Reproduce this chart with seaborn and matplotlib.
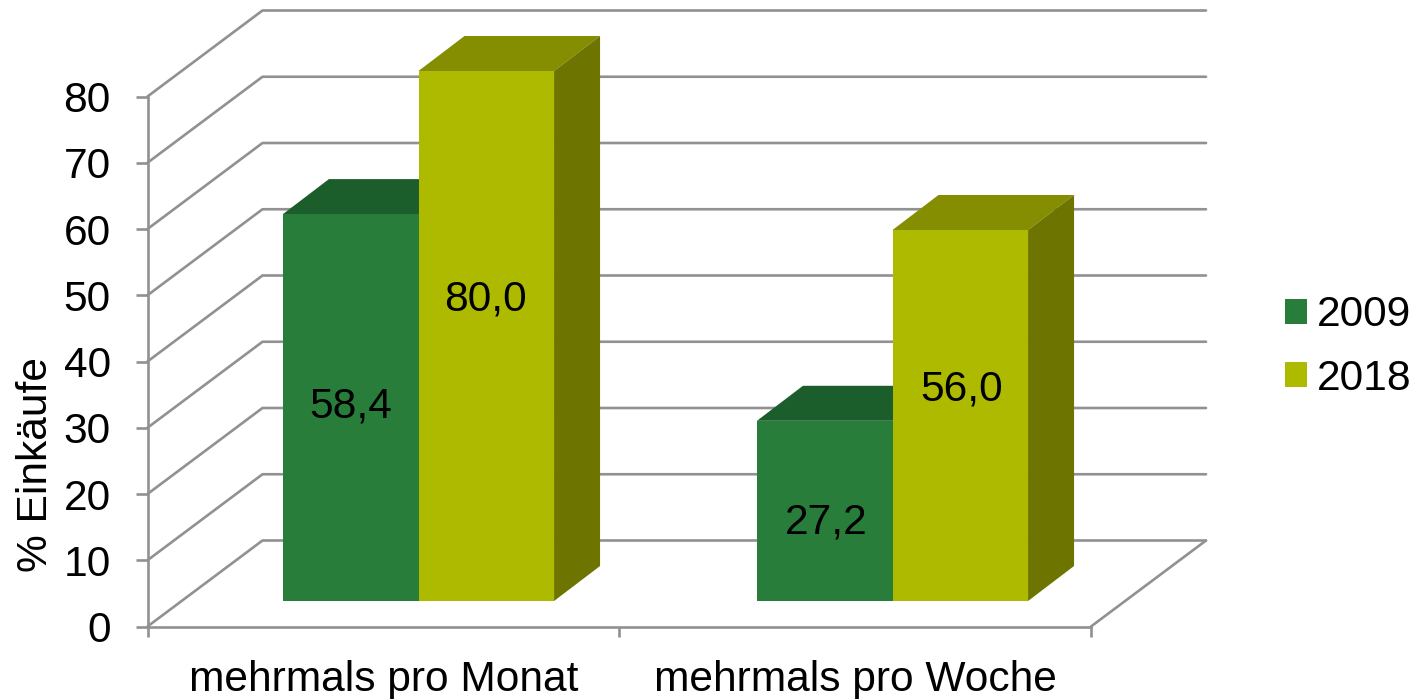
import matplotlib
matplotlib.use("Agg")
import matplotlib.pyplot as plt
from matplotlib.patches import Polygon
import pandas as pd
import seaborn as sns

categories = ["mehrmals pro Monat", "mehrmals pro Woche"]
years = ["2009", "2018"]
values_2009 = [58.4, 27.2]
values_2018 = [80.0, 56.0]
y_ticks = [0, 10, 20, 30, 40, 50, 60, 70, 80]
y_title = "% Einkäufe"

COL_FRONT = {"2009": "#297D3A", "2018": "#ADBA00"}
COL_TOP = {"2009": "#1B5E2C", "2018": "#858E00"}
COL_SIDE = {"2009": "#1B5E2C", "2018": "#6D7500"}
LINE = "#919191"
W, H = 1416, 699
FS = 30.6
LW = 1.9

sns.set_theme(style="white")
plt.rcParams["font.family"] = ["Liberation Sans", "DejaVu Sans"]

df = pd.DataFrame({
    "cat": categories * 2,
    "year": [years[0]] * 2 + [years[1]] * 2,
    "val": values_2009 + values_2018,
})


def box(left, right, top, bottom):
    return [left / W, 1 - bottom / H, (right - left) / W, (bottom - top) / H]


fig = plt.figure(figsize=(W / 100, H / 100), dpi=100, facecolor="white")

# front wall and floor edge: the real value axis
ax = fig.add_axes(box(147.5, 1091, 96.5, 626.5), facecolor="none")
ax.set_xlim(0, 2)
ax.set_ylim(0, 80)
for s in ("top", "right"):
    ax.spines[s].set_visible(False)
for s in ("left", "bottom"):
    ax.spines[s].set_color(LINE)
    ax.spines[s].set_linewidth(LW)
ax.set_yticks(y_ticks)
ax.set_xticks([0, 1, 2])
ax.set_xticklabels([])
ax.set_xticks([0.5, 1.5], minor=True)
ax.set_xticklabels(categories, minor=True, fontsize=FS, color="black")
ax.tick_params(axis="y", left=True, length=9, width=LW, color=LINE, pad=17.4,
               labelsize=FS, labelcolor="black")
ax.tick_params(axis="x", which="major", bottom=True, length=7.5, width=LW, color=LINE)
ax.tick_params(axis="x", which="minor", bottom=False, length=0, pad=24)
ax.set_ylabel(y_title, fontsize=FS, color="black", va="center")
ax.yaxis.set_label_coords((36 - 147.5) / 943.5, (626.5 - 465) / 530)

# wall depth, in units of the front axis
wall_dx = 115 / 943.5 * 2
wall_dy = 86 / 530 * 80
for v in y_ticks:
    ax.plot([0, wall_dx, 2 + wall_dx], [v, v + wall_dy, v + wall_dy],
            color=LINE, lw=LW, clip_on=False, zorder=1, solid_capstyle="round")
ax.plot([2, 2 + wall_dx], [0, wall_dy], color=LINE, lw=LW, clip_on=False, zorder=1)

# bars
ax_bar = fig.add_axes(box(181.5, 1129.5, 71, 601), facecolor="none")
sns.barplot(data=df, x="cat", y="val", hue="year", hue_order=years, palette=COL_FRONT,
            width=0.572, gap=0, saturation=1, ax=ax_bar, linewidth=0, legend=True)
ax_bar.set_xlim(-0.5, 1.5)
ax_bar.set_ylim(0, 80)
ax_bar.axis("off")

bar_dx = 46 / 948 * 2
bar_dy = 35 / 530 * 80
label_offsets_px = [(0, 1), (2, -12), (-1, 37), (1, 26)]
hue_of_bar = [years[0]] * 2 + [years[1]] * 2
for patch, year, off in zip(ax_bar.patches, hue_of_bar, label_offsets_px):
    x0, w, h = patch.get_x(), patch.get_width(), patch.get_height()
    patch.set_zorder(3)
    ax_bar.add_patch(Polygon([(x0, h), (x0 + w, h), (x0 + w + bar_dx, h + bar_dy), (x0 + bar_dx, h + bar_dy)],
                             closed=True, facecolor=COL_TOP[year], edgecolor="none", zorder=2, clip_on=False))
    ax_bar.add_patch(Polygon([(x0 + w, 0), (x0 + w + bar_dx, bar_dy), (x0 + w + bar_dx, h + bar_dy), (x0 + w, h)],
                             closed=True, facecolor=COL_SIDE[year], edgecolor="none", zorder=2, clip_on=False))
    ax_bar.annotate(f"{h:.1f}".replace(".", ","), xy=(x0 + w / 2, h / 2),
                    xytext=(off[0] * 0.72, off[1] * 0.72), textcoords="offset points",
                    ha="center", va="center", fontsize=FS, color="black", zorder=5)

sns.move_legend(ax_bar, loc="center left",
                bbox_to_anchor=(1285 / W, 1 - 347 / H), bbox_transform=fig.transFigure,
                frameon=False, title=None, fontsize=FS, labelcolor="black", borderpad=0, borderaxespad=0,
                handlelength=0.52, handleheight=0.52, handletextpad=0.24, labelspacing=0.55)

fig.savefig("out.png", dpi=100, facecolor="white")
